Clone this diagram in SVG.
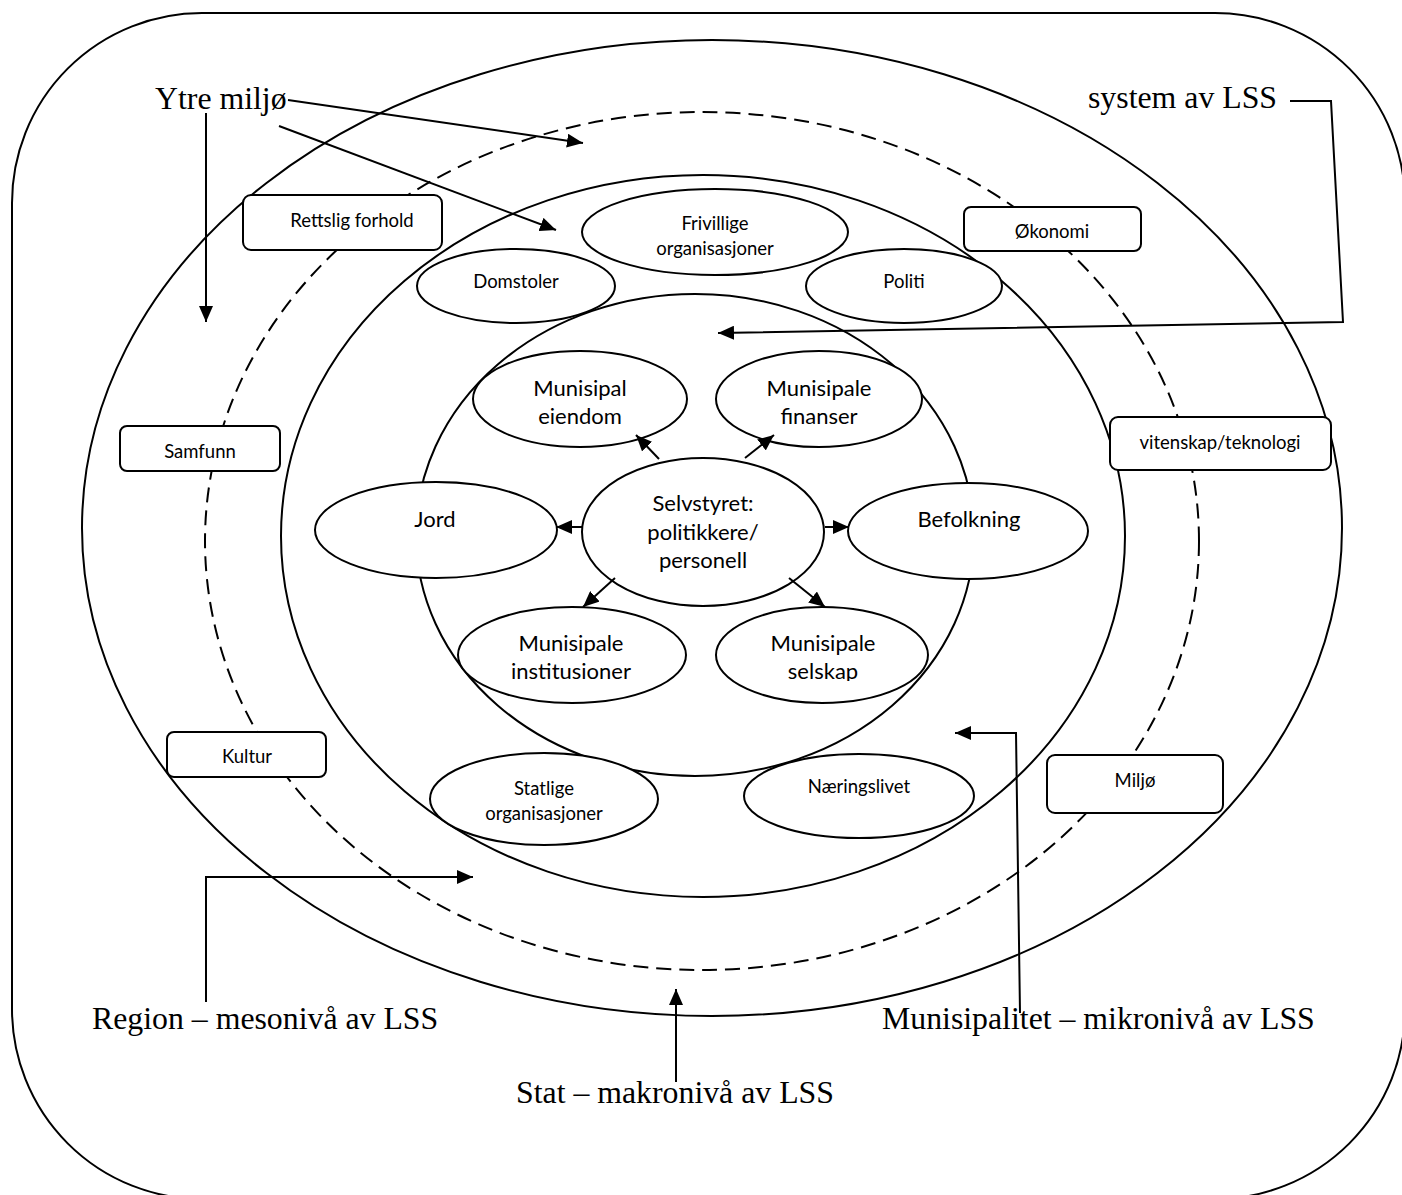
<svg xmlns="http://www.w3.org/2000/svg" width="1402" height="1195" viewBox="0 0 1402 1195">
<style>
.ln{fill:none;stroke:#000;stroke-width:2}
.ring{fill:none;stroke:#000;stroke-width:2}
.dash{fill:none;stroke:#000;stroke-width:2;stroke-dasharray:15 8}
.node{fill:#fff;stroke:#000;stroke-width:2}
.big{font-family:Lato,"Liberation Sans",sans-serif;font-size:22px;text-anchor:middle;fill:#000}
.sm{font-family:Lato,"Liberation Sans",sans-serif;font-size:18.5px;text-anchor:middle;fill:#000}
.ser{font-family:"Liberation Serif","Times New Roman",serif;font-size:31.8px;fill:#000}
</style>
<defs>
<marker id="ah" viewBox="0 0 16 14" refX="16" refY="7" markerWidth="16" markerHeight="14" markerUnits="userSpaceOnUse" orient="auto"><path d="M0,0 L16,7 L0,14 z" fill="#000"/></marker>
<clipPath id="clipB"><rect x="0" y="0" width="1402" height="681"/></clipPath>
</defs>
<rect width="1402" height="1195" fill="#fff"/>
<rect x="12" y="13" width="1393" height="1186" rx="190" ry="190" class="ln"/>
<g id="rings">
<ellipse cx="712" cy="528" rx="630" ry="488" class="ring"/>
<ellipse cx="702" cy="541" rx="497" ry="429" class="dash"/>
<ellipse cx="703" cy="536" rx="422" ry="361" class="ring"/>
<ellipse cx="695" cy="535" rx="279" ry="241" class="ring"/>
</g>
<g id="n-rettslig"><rect x="243" y="195" width="199" height="55" rx="8" class="node"/><text x="352" y="227" class="sm">Rettslig forhold</text></g>
<g id="n-okonomi"><rect x="964" y="207" width="177" height="44" rx="7" class="node"/><text x="1052" y="238" class="sm">Økonomi</text></g>
<g id="n-samfunn"><rect x="120" y="426" width="160" height="45" rx="7" class="node"/><text x="200" y="458" class="sm">Samfunn</text></g>
<g id="n-vitenskap"><rect x="1110" y="417" width="221" height="53" rx="8" class="node"/><text x="1220" y="449" class="sm">vitenskap/teknologi</text></g>
<g id="n-kultur"><rect x="167" y="732" width="159" height="45" rx="7" class="node"/><text x="247" y="763" class="sm">Kultur</text></g>
<g id="n-miljo"><rect x="1047" y="755" width="176" height="58" rx="8" class="node"/><text x="1135" y="787" class="sm">Miljø</text></g>
<g id="n-frivillige"><ellipse cx="715" cy="232" rx="133" ry="43" class="node"/><text x="715" y="230" class="sm">Frivillige</text><text x="715" y="255" class="sm">organisasjoner</text></g>
<g id="n-domstoler"><ellipse cx="516" cy="286" rx="99" ry="37" class="node"/><text x="516" y="288" class="sm">Domstoler</text></g>
<g id="n-politi"><ellipse cx="904" cy="286" rx="98" ry="37" class="node"/><text x="904" y="288" class="sm">Politi</text></g>
<g id="n-eiendom"><ellipse cx="580" cy="399" rx="107" ry="48" class="node"/><text x="580" y="396" class="big">Munisipal</text><text x="580" y="424" class="big">eiendom</text></g>
<g id="n-finanser"><ellipse cx="819" cy="399" rx="103" ry="48" class="node"/><text x="819" y="396" class="big">Munisipale</text><text x="819" y="424" class="big">finanser</text></g>
<g id="n-jord"><ellipse cx="436" cy="530" rx="121" ry="48" class="node"/><text x="435" y="527" class="big">Jord</text></g>
<g id="n-selvstyret"><ellipse cx="703" cy="532" rx="121" ry="74" class="node"/><text x="703" y="511" class="big">Selvstyret:</text><text x="703" y="540" class="big">politikkere/</text><text x="703" y="568" class="big">personell</text></g>
<g id="n-befolkning"><ellipse cx="968" cy="531" rx="120" ry="48" class="node"/><text x="969" y="527" class="big">Befolkning</text></g>
<g id="n-institusioner"><ellipse cx="572" cy="655" rx="114" ry="48" class="node"/><g clip-path="url(#clipB)"><text x="571" y="651" class="big">Munisipale</text><text x="571" y="679" class="big">institusioner</text></g></g>
<g id="n-selskap"><ellipse cx="822" cy="655" rx="106" ry="48" class="node"/><g clip-path="url(#clipB)"><text x="823" y="651" class="big">Munisipale</text><text x="823" y="679" class="big">selskap</text></g></g>
<g id="n-statlige"><ellipse cx="544" cy="799" rx="114" ry="46" class="node"/><text x="544" y="795" class="sm">Statlige</text><text x="544" y="820" class="sm">organisasjoner</text></g>
<g id="n-naeringslivet"><ellipse cx="859" cy="796" rx="115" ry="42" class="node"/><text x="859" y="793" class="sm">Næringslivet</text></g>
<g id="labels">
<text x="155" y="109" class="ser">Ytre miljø</text>
<text x="1088" y="108" class="ser">system av LSS</text>
<text x="92" y="1029" class="ser">Region – mesonivå av LSS</text>
<text x="882" y="1029" class="ser">Munisipalitet – mikronivå av LSS</text>
<text x="516" y="1103" class="ser">Stat – makronivå av LSS</text>
</g>
<g id="connectors">
<path d="M288,100 L583,143" class="ln" marker-end="url(#ah)"/>
<path d="M279,126 L556,230" class="ln" marker-end="url(#ah)"/>
<path d="M206,113 L206,322" class="ln" marker-end="url(#ah)"/>
<path d="M1290,101 L1331,101 L1343,322 L718,333" class="ln" marker-end="url(#ah)"/>
<path d="M1020,1013 L1016,733 L955,733" class="ln" marker-end="url(#ah)"/>
<path d="M206,1002 L206,877 L473,877" class="ln" marker-end="url(#ah)"/>
<path d="M676,1082 L676,989" class="ln" marker-end="url(#ah)"/>
<path d="M659,459 L636,435" class="ln" marker-end="url(#ah)"/>
<path d="M745,458 L774,435" class="ln" marker-end="url(#ah)"/>
<path d="M583,527 L556,527" class="ln" marker-end="url(#ah)"/>
<path d="M825,527 L849,527" class="ln" marker-end="url(#ah)"/>
<path d="M615,578 L583,607" class="ln" marker-end="url(#ah)"/>
<path d="M789,578 L825,607" class="ln" marker-end="url(#ah)"/>
</g>
</svg>
